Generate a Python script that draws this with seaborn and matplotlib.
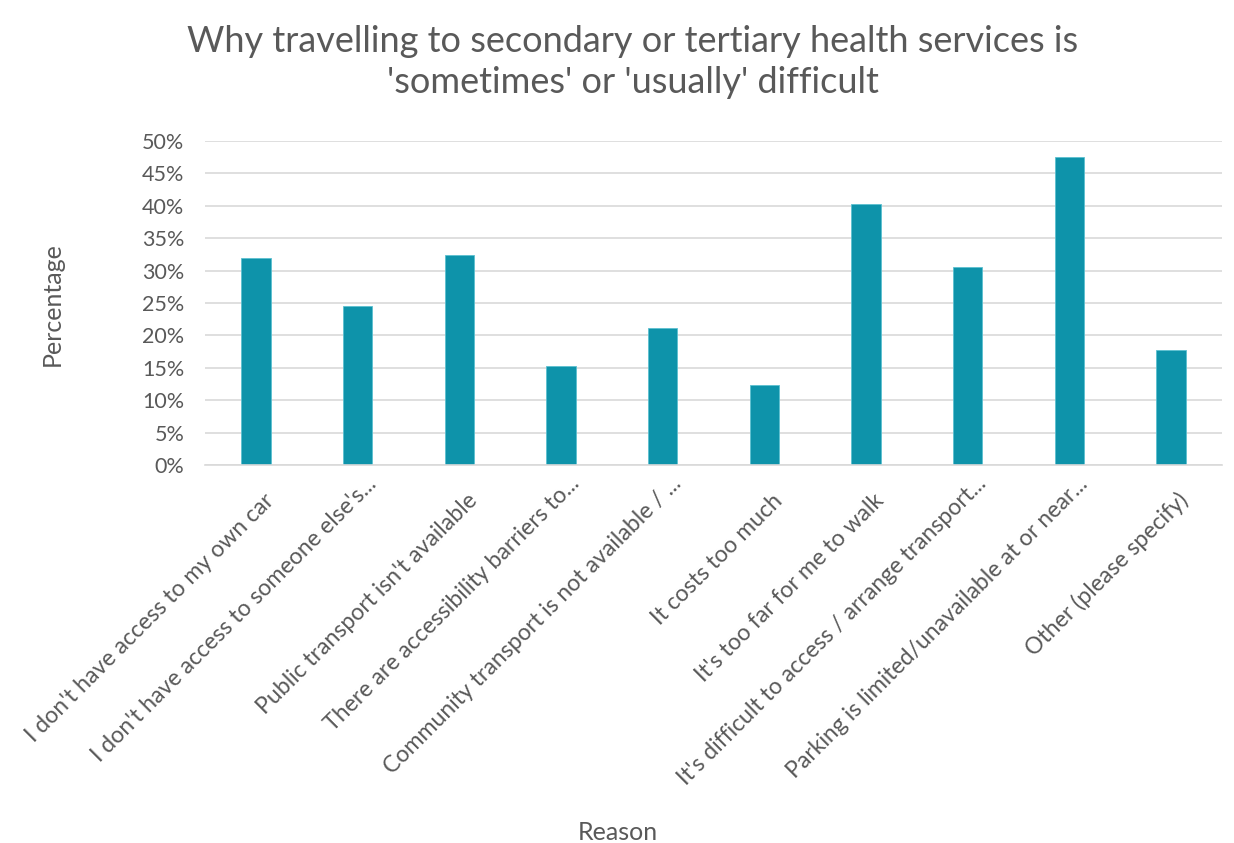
import matplotlib
matplotlib.use("Agg")
import matplotlib.pyplot as plt
import matplotlib.transforms as mtransforms
import seaborn as sns
import pandas as pd
from matplotlib.ticker import PercentFormatter, MultipleLocator

reasons = [
    "I don't have access to my own car",
    "I don't have access to someone else's...",
    "Public transport isn't available",
    "There are accessibility barriers to...",
    "Community transport is not available / ...",
    "It costs too much",
    "It's too far for me to walk",
    "It's difficult to access / arrange transport...",
    "Parking is limited/unavailable at or near...",
    "Other (please specify)",
]
percentages = [32.0, 24.6, 32.4, 15.3, 21.2, 12.4, 40.3, 30.5, 47.5, 17.7]

df = pd.DataFrame({"Reason": reasons, "Percentage": percentages})

sns.set_theme(style="white")
plt.rcParams["font.family"] = ["Lato", "DejaVu Sans"]

text_grey = "#595959"
grid_grey = "#d9d9d9"
bar_colour = "#0E93AA"
W, H = 1234, 843

fig = plt.figure(figsize=(W / 100, H / 100), dpi=100)
ax = fig.add_axes([205 / W, 1 - 465 / H, (1222 - 205) / W, (465 - 141) / H])

sns.barplot(data=df, x="Reason", y="Percentage", color=bar_colour, width=0.29,
            saturation=1, ax=ax, edgecolor="#5bc0d0", linewidth=0.6)

ax.set_ylim(0, 50)
ax.set_xlim(-0.5, len(reasons) - 0.5)
ax.yaxis.set_major_locator(MultipleLocator(5))
ax.yaxis.set_major_formatter(PercentFormatter(decimals=0))
ax.grid(axis="y", color=grid_grey, linewidth=1.2)
ax.set_axisbelow(True)
for side in ("top", "right", "left"):
    ax.spines[side].set_visible(False)
ax.spines["bottom"].set_color(grid_grey)
ax.spines["bottom"].set_linewidth(1.2)
ax.tick_params(axis="both", length=0, colors=text_grey, labelsize=15.5)
ax.tick_params(axis="y", pad=15)
ax.tick_params(axis="x", pad=0)

# Category labels: 45 degree, right end of baseline hung just below each bar;
# truncated labels (ending in "...") sit a little higher.
ax.set_xticks(range(len(reasons)))
ax.set_xticklabels(reasons, rotation=45, ha="right", va="baseline",
                   rotation_mode="anchor", color=text_grey, fontsize=16.6)
for lbl, name in zip(ax.get_xticklabels(), reasons):
    dx, dy = (20, 20) if name.endswith("...") else (19, 37)
    shift = mtransforms.ScaledTranslation(dx / 100, -dy / 100, fig.dpi_scale_trans)
    lbl.set_transform(lbl.get_transform() + shift)

ax.set_xlabel("")
ax.set_ylabel("")
fig.text(52 / W, 1 - 304 / H, "Percentage", rotation=90, color=text_grey,
         fontsize=18, ha="center", va="center")
fig.text(618 / W, 1 - 833 / H, "Reason", color=text_grey, fontsize=18,
         ha="center", va="center")

fig.text(633 / W, 1 - 62 / H,
         "Why travelling to secondary or tertiary health services is\n'sometimes' or 'usually' difficult",
         ha="center", va="center", color=text_grey, fontsize=26, linespacing=1.3)

fig.savefig("out.png", dpi=100, facecolor="white")
